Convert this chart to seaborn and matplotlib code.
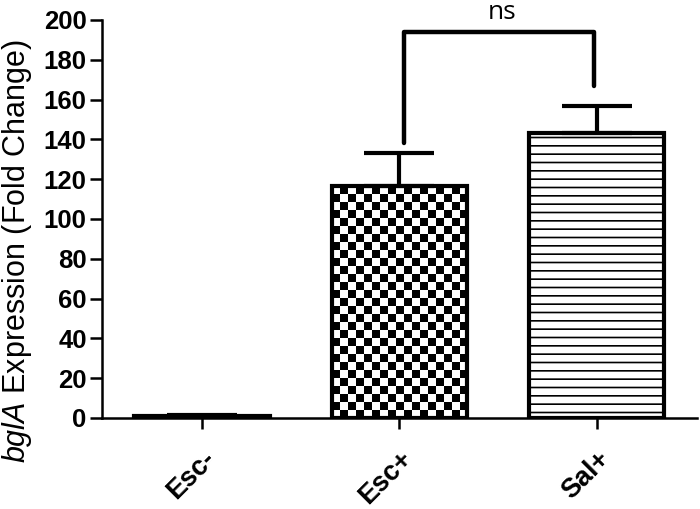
import numpy as np
import pandas as pd
import matplotlib
matplotlib.use("Agg")
import matplotlib.pyplot as plt
import seaborn as sns

categories = ["Esc-", "Esc+", "Sal+"]
means = [1.0, 116.5, 143.0]
errors = [0.5, 16.5, 14.0]
yticks = [0, 20, 40, 60, 80, 100, 120, 140, 160, 180, 200]
ylabel_italic = "bglA"
ylabel_rest = " Expression (Fold Change)"
sig_label = "ns"
bracket_top = 194
bracket_left_bottom = 138
bracket_right_bottom = 167

sns.set_theme(style="ticks")
plt.rcParams["font.family"] = ["Liberation Sans", "DejaVu Sans"]
plt.rcParams["mathtext.fontset"] = "custom"
plt.rcParams["mathtext.it"] = "Liberation Sans:italic"
plt.rcParams["mathtext.rm"] = "Liberation Sans"
plt.rcParams["hatch.linewidth"] = 1.2
for k in ["text.color", "axes.labelcolor", "xtick.color", "ytick.color",
          "xtick.labelcolor", "ytick.labelcolor", "axes.edgecolor"]:
    plt.rcParams[k] = "black"

fig = plt.figure(figsize=(7, 5.09), dpi=100)
ax = fig.add_axes([0.1457, 0.1788, 0.85, 0.782])

df = pd.DataFrame({"cat": categories, "val": means})
sns.barplot(data=df, x="cat", y="val", order=categories, color="white",
            edgecolor="black", linewidth=3, width=0.69, errorbar=None,
            saturation=1, ax=ax, zorder=3)

patches = ax.patches
# Sal+ horizontal lines
patches[2].set_hatch("--")
# Esc+ checkerboard
bar = patches[1]
bar.set_facecolor("none")
x0 = bar.get_x(); w = bar.get_width(); h = bar.get_height()
ncols = 17
nrows = int(round(h / 4.0))
board = (np.add.outer(np.arange(nrows), np.arange(ncols)) % 2).astype(float)
im = ax.imshow(board, extent=(x0, x0 + w, 0, h), cmap="gray_r", vmin=0, vmax=1,
               interpolation="nearest", aspect="auto", origin="lower", zorder=2)
im.set_clip_path(bar)

# upper-only error bars
ax.errorbar(range(len(categories)), means, yerr=[np.zeros(len(errors)), errors],
            fmt="none", ecolor="black", elinewidth=3, capsize=25, capthick=3,
            zorder=4)

# significance bracket
ax.plot([1.025, 1.025, 1.985, 1.985],
        [bracket_left_bottom, bracket_top, bracket_top, bracket_right_bottom],
        color="black", lw=3.2, clip_on=False, zorder=5, solid_capstyle="round")
ax.text(1.52, 203.5, sig_label, ha="center", va="center",
        fontsize=19, family=["Open Sans", "DejaVu Sans"], clip_on=False)

ax.set_xlim(-0.51, 2.51)
ax.set_ylim(0, 200)
ax.set_yticks(yticks)
ax.set_yticklabels([str(t) for t in yticks], fontsize=18.5, fontweight="bold")
ax.set_xticks(range(len(categories)))
ax.set_xticklabels(categories, fontsize=19.5, fontweight="bold", rotation=45,
                   ha="right", va="top", rotation_mode="anchor")
ax.set_xlabel("")
ax.set_ylabel(r"$\it{" + ylabel_italic + "}$" + ylabel_rest, fontsize=22)
ax.yaxis.set_label_coords(-0.114, 0.42)

sns.despine(ax=ax)
for s in ["left", "bottom"]:
    ax.spines[s].set_linewidth(1.8)
    ax.spines[s].set_color("black")
ax.tick_params(axis="y", length=9, width=1.8, color="black", pad=2)
ax.tick_params(axis="x", length=8, width=1.8, color="black", pad=12)

fig.savefig("out.png", dpi=100)
